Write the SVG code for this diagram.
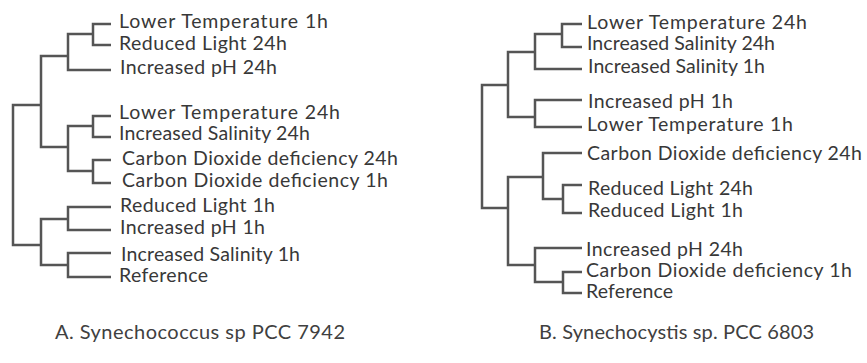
<svg xmlns="http://www.w3.org/2000/svg" width="867" height="363" viewBox="0 0 867 363">
<style>
.e{fill:none;stroke:#555;stroke-width:2.5;stroke-linejoin:miter;stroke-linecap:butt}
text{font-family:Lato,"Open Sans","Liberation Sans",sans-serif;font-size:19.5px;fill:#383838}
.cap{font-size:20px;fill:#404040}
</style>
<rect width="867" height="363" fill="#fff"/>
<g id="connectors">
<path class="e" d="M111,24 H93 V45 H111"/>
<path class="e" d="M93,34 H68 V70 H111"/>
<path class="e" d="M111,116 H93 V137 H111"/>
<path class="e" d="M111,160 H93 V183 H111"/>
<path class="e" d="M93,126 H68 V171 H93"/>
<path class="e" d="M68,56 H41 V147 H68"/>
<path class="e" d="M111,207 H68 V230 H111"/>
<path class="e" d="M111,253 H68 V277 H111"/>
<path class="e" d="M68,219 H41 V265 H68"/>
<path class="e" d="M41,105 H13 V245 H41"/>
<path class="e" d="M582,24 H562 V47 H582"/>
<path class="e" d="M562,34 H535 V69 H582"/>
<path class="e" d="M582,100 H535 V127 H582"/>
<path class="e" d="M535,52 H508 V117 H535"/>
<path class="e" d="M582,185 H563 V213 H582"/>
<path class="e" d="M582,153 H543 V199 H563"/>
<path class="e" d="M582,272 H563 V293 H582"/>
<path class="e" d="M582,248 H535 V282 H563"/>
<path class="e" d="M543,177 H508 V265 H535"/>
<path class="e" d="M508,85 H482 V208 H508"/>
</g>
<g id="treeA">
<g id="a1"><text x="119" y="28" textLength="209">Lower Temperature 1h</text></g>
<g id="a2"><text x="119" y="50" textLength="168">Reduced Light 24h</text></g>
<g id="a3"><text x="120" y="74" textLength="157">Increased pH 24h</text></g>
<g id="a4"><text x="119" y="119" textLength="221">Lower Temperature 24h</text></g>
<g id="a5"><text x="119" y="140" textLength="191">Increased Salinity 24h</text></g>
<g id="a6"><text x="122" y="165" textLength="276">Carbon Dioxide deficiency 24h</text></g>
<g id="a7"><text x="122" y="187" textLength="266">Carbon Dioxide deficiency 1h</text></g>
<g id="a8"><text x="120" y="212" textLength="155">Reduced Light 1h</text></g>
<g id="a9"><text x="120" y="234" textLength="145">Increased pH 1h</text></g>
<g id="a10"><text x="121" y="261" textLength="179">Increased Salinity 1h</text></g>
<g id="a11"><text x="119" y="282" textLength="89">Reference</text></g>
</g>
<g id="treeB">
<g id="b1"><text x="587" y="29" textLength="220">Lower Temperature 24h</text></g>
<g id="b2"><text x="587" y="50" textLength="188">Increased Salinity 24h</text></g>
<g id="b3"><text x="588" y="73" textLength="177">Increased Salinity 1h</text></g>
<g id="b4"><text x="588" y="108" textLength="145">Increased pH 1h</text></g>
<g id="b5"><text x="587" y="131" textLength="206">Lower Temperature 1h</text></g>
<g id="b6"><text x="587" y="160" textLength="275">Carbon Dioxide deficiency 24h</text></g>
<g id="b7"><text x="588" y="195" textLength="165">Reduced Light 24h</text></g>
<g id="b8"><text x="588" y="217" textLength="155">Reduced Light 1h</text></g>
<g id="b9"><text x="586" y="256" textLength="157">Increased pH 24h</text></g>
<g id="b10"><text x="586" y="277" textLength="266">Carbon Dioxide deficiency 1h</text></g>
<g id="b11"><text x="586" y="298" textLength="87">Reference</text></g>
</g>
<g id="captions">
<text class="cap" x="55" y="339" textLength="290">A. Synechococcus sp PCC 7942</text>
<text class="cap" x="539" y="339" textLength="275">B. Synechocystis sp. PCC 6803</text>
</g>
</svg>
